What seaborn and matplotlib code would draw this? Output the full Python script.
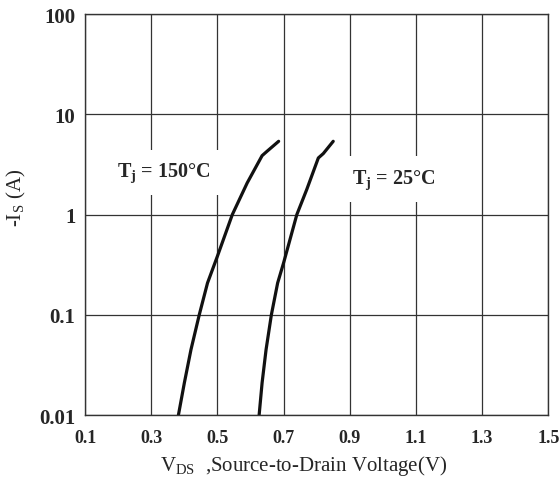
import numpy as np
import pandas as pd
import matplotlib
matplotlib.use('Agg')
import matplotlib.pyplot as plt
import seaborn as sns

# curve values
vsd_150 = [0.382, 0.400, 0.420, 0.445, 0.470, 0.500, 0.545, 0.590, 0.635, 0.650, 0.685]
is_150 = [0.01, 0.021, 0.045, 0.1, 0.208, 0.385, 1.0, 2.07, 3.87, 4.28, 5.38]
vsd_25 = [0.626, 0.635, 0.647, 0.663, 0.682, 0.700, 0.740, 0.770, 0.805, 0.820, 0.850]
is_25 = [0.01, 0.021, 0.045, 0.1, 0.208, 0.33, 1.0, 1.78, 3.67, 4.06, 5.38]

x_ticks = [0.1, 0.3, 0.5, 0.7, 0.9, 1.1, 1.3, 1.5]
y_ticks = [0.01, 0.1, 1, 10, 100]
y_labels = ['0.01', '0.1', '1', '10', '100']

df = pd.concat([
    pd.DataFrame({'vsd': vsd_150, 'is': is_150, 'tj': '150'}),
    pd.DataFrame({'vsd': vsd_25, 'is': is_25, 'tj': '25'}),
])

sns.set_style('white')
plt.rcParams['font.family'] = ['Liberation Serif', 'DejaVu Serif']
plt.rcParams['mathtext.fontset'] = 'custom'
plt.rcParams['mathtext.rm'] = 'Liberation Serif'
plt.rcParams['mathtext.bf'] = 'Liberation Serif:bold'

fig = plt.figure(figsize=(5.6, 4.85), dpi=100)
ax = fig.add_axes([0.152, 0.142, 0.827, 0.827])

sns.lineplot(data=df, x='vsd', y='is', units='tj', estimator=None, sort=False,
             color='#111111', linewidth=2.3, ax=ax, legend=False)

ax.set_yscale('log')
ax.set_xlim(0.1, 1.5)
ax.set_ylim(0.01, 100)
ax.set_xticks(x_ticks)
ax.set_xticklabels([f'{v:.1f}' for v in x_ticks])
ax.set_yticks(y_ticks)
ax.set_yticklabels(y_labels)
ax.yaxis.set_minor_locator(matplotlib.ticker.NullLocator())
ax.tick_params(length=0)
ax.tick_params(axis='x', labelsize=13, pad=10)
ax.tick_params(axis='y', labelsize=15, pad=7)
for lab in ax.get_xticklabels() + ax.get_yticklabels():
    lab.set_fontweight('bold')

ax.grid(True, color='#333333', linewidth=0.9)
for s in ax.spines.values():
    s.set_color('#333333')
    s.set_linewidth(1.0)

ax.set_xlabel(r'V$_{\mathregular{DS}}$  ,Source-to-Drain Voltage(V)', fontsize=15)
ax.xaxis.set_label_coords(0.471, -0.095)
ax.set_ylabel(r'-I$_{\mathregular{S}}$ (A)', fontsize=15)
ax.yaxis.set_label_coords(-0.124, 0.544)

box = dict(facecolor='white', edgecolor='none', pad=8)
ax.text(0.195, 2.42, r'T$_{\mathbf{j}}$ = 150°C', fontsize=14.5, fontweight='bold',
        va='baseline', bbox=box)
ax.text(0.906, 2.09, r'T$_{\mathbf{j}}$ = 25°C', fontsize=14.5, fontweight='bold',
        va='baseline', bbox=box)

fig.savefig('out.png', dpi=100)
